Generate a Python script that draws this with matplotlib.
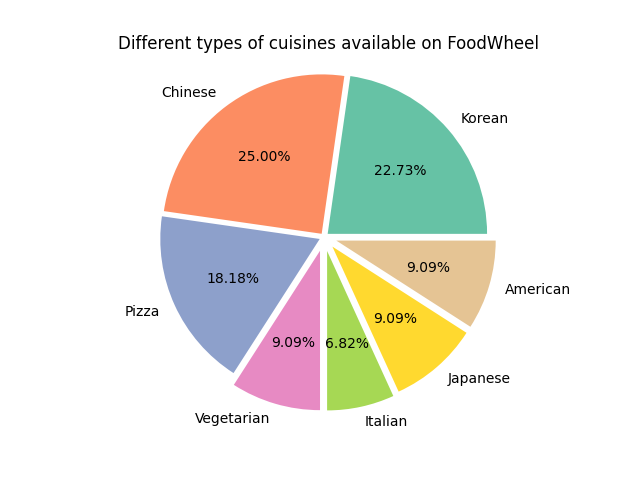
import matplotlib
matplotlib.use("Agg")
import matplotlib.pyplot as plt

cuisines = ['Korean', 'Chinese', 'Pizza', 'Vegetarian', 'Italian', 'Japanese', 'American']
counts = [10, 11, 8, 4, 3, 4, 4]
explode = [0.03, 0.025, 0.03, 0.09, 0.09, 0.08, 0.08]
colors = plt.get_cmap('Set2').colors[:len(cuisines)]

fig, ax = plt.subplots(figsize=(6.4, 4.8), dpi=100)
ax.pie(counts, labels=cuisines, autopct='%1.2f%%', explode=explode,
       colors=colors, frame=True)
ax.axis('off')
ax.set_title('Different types of cuisines available on FoodWheel')

plt.savefig('out.png')
